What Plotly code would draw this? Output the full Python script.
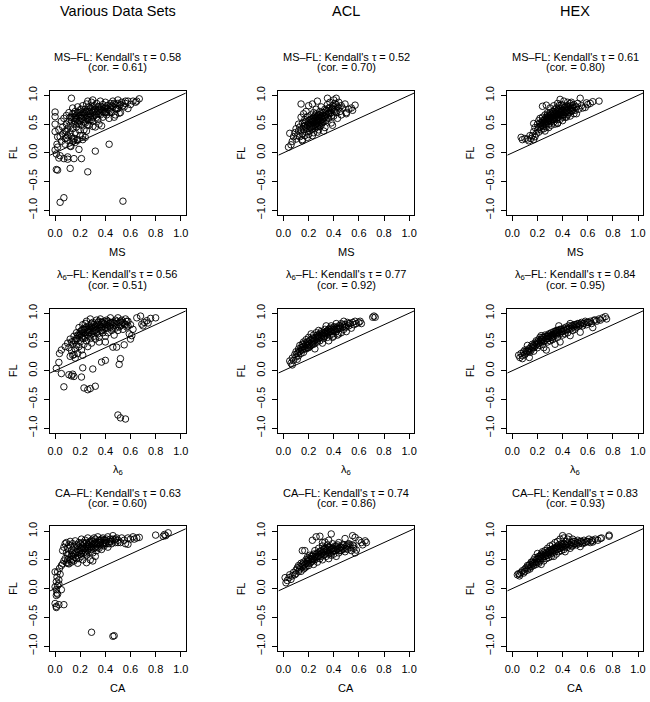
import plotly.graph_objects as go

# ---------------- data ----------------
col_titles = ["Various Data Sets", "ACL", "HEX"]
row_measures = ["MS", "λ<sub>6</sub>", "CA"]
kendall_tau = [[0.58, 0.52, 0.61], [0.56, 0.77, 0.84], [0.63, 0.74, 0.83]]
pearson_cor = [[0.61, 0.70, 0.80], [0.51, 0.92, 0.95], [0.60, 0.86, 0.93]]

x_ticks = [0.0, 0.2, 0.4, 0.6, 0.8, 1.0]
x_ticklabels = ["0.0", "0.2", "0.4", "0.6", "0.8", "1.0"]
y_ticks = [-1.0, -0.5, 0.0, 0.5, 1.0]
y_ticklabels = ["−1.0", "−0.5", "0.0", "0.5", "1.0"]

various_ms_fl = [
    (0.13, 0.95), (0.00, 0.71), (0.00, 0.63), (0.00, 0.50), (0.00, 0.37), (0.015, 0.15), (0.00, 0.05),
    (0.01, -0.02), (0.03, -0.09), (0.07, -0.10), (0.10, -0.07), (0.10, -0.11), (0.15, -0.10), (0.21, -0.10),
    (0.19, 0.06), (0.32, 0.03), (0.43, 0.15), (0.01, -0.29), (0.02, -0.30), (0.12, -0.27), (0.26, -0.33),
    (0.04, -0.86), (0.07, -0.78), (0.54, -0.84), (0.02, 0.28), (0.02, 0.10), (0.04, -0.05),
    (0.09, 0.37), (0.09, 0.26), (0.15, 0.23), (0.125, 0.11), (0.16, 0.18), (0.18, 0.23), (0.22, 0.23), (0.24, 0.27),
    (0.03, 0.40), (0.04, 0.28), (0.05, 0.55), (0.06, 0.33), (0.06, 0.45), (0.07, 0.60), (0.08, 0.25), (0.08, 0.38),
    (0.09, 0.50), (0.09, 0.65), (0.10, 0.30), (0.10, 0.42), (0.11, 0.55), (0.11, 0.70), (0.12, 0.35), (0.12, 0.48),
    (0.12, 0.62), (0.13, 0.28), (0.13, 0.55), (0.14, 0.42), (0.14, 0.68), (0.14, 0.78), (0.15, 0.50), (0.15, 0.60),
    (0.16, 0.35), (0.16, 0.72), (0.17, 0.45), (0.17, 0.58), (0.17, 0.65), (0.18, 0.52), (0.18, 0.80), (0.19, 0.40),
    (0.19, 0.62), (0.19, 0.70), (0.20, 0.55), (0.20, 0.75), (0.21, 0.48), (0.21, 0.66), (0.22, 0.58), (0.22, 0.82),
    (0.23, 0.40), (0.23, 0.70), (0.23, 0.62), (0.24, 0.52), (0.24, 0.76), (0.25, 0.65), (0.25, 0.85), (0.26, 0.58),
    (0.26, 0.72), (0.27, 0.48), (0.27, 0.80), (0.28, 0.62), (0.28, 0.68), (0.29, 0.75), (0.29, 0.88), (0.30, 0.55),
    (0.30, 0.70), (0.31, 0.82), (0.31, 0.64), (0.32, 0.45), (0.32, 0.76), (0.33, 0.68), (0.33, 0.86), (0.34, 0.58),
    (0.34, 0.72), (0.35, 0.80), (0.36, 0.66), (0.36, 0.90), (0.37, 0.75), (0.38, 0.62), (0.38, 0.84), (0.39, 0.70),
    (0.40, 0.78), (0.40, 0.88), (0.41, 0.66), (0.42, 0.82), (0.43, 0.74), (0.44, 0.86), (0.45, 0.70), (0.46, 0.90),
    (0.46, 0.80), (0.47, 0.62), (0.48, 0.84), (0.49, 0.76), (0.50, 0.92), (0.51, 0.82), (0.52, 0.70), (0.53, 0.88),
    (0.55, 0.80), (0.56, 0.86), (0.58, 0.90), (0.60, 0.84), (0.62, 0.90), (0.64, 0.88), (0.67, 0.94), (0.48, 0.66),
    (0.43, 0.60), (0.30, 0.92), (0.26, 0.90), (0.35, 0.50), (0.20, 0.30), (0.15, 0.25), (0.10, 0.22), (0.05, 0.20),
    (0.08, 0.15), (0.12, 0.12), (0.18, 0.22), (0.22, 0.30), (0.25, 0.38), (0.14, 0.20), (0.37, 0.47), (0.30, 0.46),
    (0.26, 0.49), (0.50, 0.77), (0.51, 0.69), (0.58, 0.77), (0.65, 0.90), (0.21, 0.60), (0.24, 0.68), (0.27, 0.64),
    (0.29, 0.58), (0.32, 0.66), (0.35, 0.74), (0.37, 0.80), (0.41, 0.72), (0.44, 0.78), (0.19, 0.50), (0.16, 0.55),
    (0.16, 0.64), (0.18, 0.70), (0.20, 0.64), (0.22, 0.70), (0.23, 0.54), (0.25, 0.60), (0.25, 0.72), (0.27, 0.56),
    (0.27, 0.72), (0.28, 0.78), (0.30, 0.62), (0.30, 0.80), (0.31, 0.74), (0.33, 0.62), (0.34, 0.80), (0.35, 0.68),
    (0.36, 0.76), (0.38, 0.72), (0.39, 0.78), (0.40, 0.70), (0.41, 0.82), (0.42, 0.76), (0.44, 0.72), (0.45, 0.82),
    (0.47, 0.86), (0.48, 0.78), (0.50, 0.86), (0.52, 0.84), (0.54, 0.82), (0.56, 0.90), (0.21, 0.76), (0.19, 0.56),
    (0.13, 0.62), (0.15, 0.68),
]

acl_ms_fl = [
    (0.04, 0.10), (0.06, 0.14), (0.07, 0.20), (0.05, 0.34), (0.08, 0.28), (0.09, 0.35), (0.10, 0.24), (0.10, 0.42),
    (0.11, 0.30), (0.12, 0.38), (0.12, 0.50), (0.13, 0.28), (0.13, 0.45), (0.14, 0.62), (0.14, 0.85), (0.15, 0.33),
    (0.15, 0.52), (0.15, 0.21), (0.15, 0.23), (0.16, 0.40), (0.16, 0.68), (0.17, 0.30), (0.17, 0.47), (0.17, 0.58),
    (0.18, 0.36), (0.18, 0.55), (0.18, 0.72), (0.19, 0.42), (0.19, 0.63), (0.20, 0.32), (0.20, 0.50), (0.20, 0.82),
    (0.21, 0.45), (0.21, 0.58), (0.21, 0.38), (0.22, 0.66), (0.22, 0.52), (0.23, 0.42), (0.23, 0.85), (0.23, 0.60),
    (0.24, 0.48), (0.24, 0.35), (0.24, 0.70), (0.25, 0.55), (0.25, 0.42), (0.26, 0.62), (0.26, 0.50), (0.26, 0.76),
    (0.27, 0.45), (0.27, 0.58), (0.27, 0.90), (0.28, 0.40), (0.28, 0.66), (0.28, 0.53), (0.29, 0.60), (0.29, 0.72),
    (0.30, 0.48), (0.30, 0.56), (0.30, 0.80), (0.31, 0.65), (0.31, 0.52), (0.32, 0.70), (0.32, 0.60), (0.33, 0.44),
    (0.33, 0.76), (0.34, 0.56), (0.34, 0.66), (0.35, 0.84), (0.35, 0.72), (0.35, 0.95), (0.36, 0.60), (0.36, 0.78),
    (0.37, 0.68), (0.37, 0.88), (0.38, 0.52), (0.38, 0.74), (0.39, 0.82), (0.39, 0.48), (0.40, 0.92), (0.40, 0.64),
    (0.41, 0.76), (0.41, 0.86), (0.42, 0.95), (0.42, 0.70), (0.43, 0.60), (0.43, 0.80), (0.44, 0.88), (0.45, 0.72),
    (0.46, 0.82), (0.47, 0.78), (0.49, 0.85), (0.50, 0.68), (0.50, 0.70), (0.52, 0.76), (0.54, 0.78), (0.55, 0.74),
    (0.57, 0.83), (0.46, 0.66), (0.32, 0.38), (0.23, 0.30), (0.27, 0.36), (0.19, 0.27), (0.29, 0.46), (0.25, 0.64),
    (0.22, 0.44), (0.24, 0.56), (0.26, 0.46), (0.28, 0.60), (0.30, 0.64), (0.33, 0.62), (0.36, 0.70), (0.38, 0.64),
    (0.19, 0.48), (0.20, 0.56), (0.21, 0.50), (0.22, 0.58), (0.23, 0.46), (0.23, 0.54), (0.24, 0.62), (0.25, 0.48),
    (0.25, 0.60), (0.26, 0.56), (0.26, 0.68), (0.27, 0.52), (0.27, 0.64), (0.28, 0.48), (0.29, 0.56), (0.29, 0.66),
    (0.30, 0.52), (0.30, 0.62), (0.31, 0.58), (0.31, 0.70), (0.32, 0.54), (0.33, 0.64), (0.34, 0.74), (0.35, 0.62),
    (0.36, 0.68), (0.37, 0.78), (0.38, 0.70), (0.39, 0.76), (0.40, 0.80), (0.41, 0.72), (0.42, 0.84), (0.44, 0.78),
    (0.18, 0.44), (0.17, 0.52), (0.16, 0.46), (0.14, 0.40),
]

hex_ms_fl = [
    (0.07, 0.27), (0.08, 0.23), (0.10, 0.25), (0.12, 0.24), (0.13, 0.21), (0.15, 0.25), (0.16, 0.30), (0.17, 0.23),
    (0.17, 0.37), (0.17, 0.51), (0.18, 0.44), (0.19, 0.33), (0.20, 0.40), (0.20, 0.50), (0.21, 0.36), (0.21, 0.56),
    (0.22, 0.45), (0.22, 0.60), (0.23, 0.40), (0.23, 0.52), (0.24, 0.81), (0.24, 0.48), (0.24, 0.62), (0.25, 0.56),
    (0.25, 0.42), (0.26, 0.50), (0.26, 0.66), (0.27, 0.83), (0.27, 0.58), (0.27, 0.45), (0.28, 0.54), (0.28, 0.62),
    (0.28, 0.70), (0.29, 0.50), (0.29, 0.60), (0.30, 0.56), (0.30, 0.66), (0.30, 0.78), (0.31, 0.48), (0.31, 0.62),
    (0.32, 0.58), (0.32, 0.72), (0.33, 0.54), (0.33, 0.66), (0.33, 0.82), (0.34, 0.62), (0.34, 0.75), (0.35, 0.58),
    (0.35, 0.70), (0.36, 0.52), (0.36, 0.66), (0.36, 0.86), (0.37, 0.62), (0.37, 0.78), (0.38, 0.70), (0.38, 0.93),
    (0.38, 0.58), (0.39, 0.74), (0.39, 0.84), (0.40, 0.66), (0.40, 0.62), (0.41, 0.78), (0.41, 0.90), (0.42, 0.70),
    (0.42, 0.62), (0.43, 0.82), (0.43, 0.74), (0.44, 0.66), (0.44, 0.88), (0.45, 0.76), (0.45, 0.70), (0.46, 0.82),
    (0.47, 0.72), (0.47, 0.88), (0.48, 0.78), (0.49, 0.68), (0.49, 0.84), (0.50, 0.74), (0.51, 0.80), (0.52, 0.86),
    (0.53, 0.76), (0.54, 0.95), (0.55, 0.82), (0.56, 0.78), (0.58, 0.79), (0.59, 0.87), (0.60, 0.84), (0.62, 0.86),
    (0.64, 0.89), (0.69, 0.90), (0.26, 0.38), (0.29, 0.44), (0.34, 0.50), (0.40, 0.56), (0.46, 0.64), (0.18, 0.28),
    (0.14, 0.30), (0.51, 0.68), (0.43, 0.62), (0.36, 0.51), (0.25, 0.52), (0.28, 0.58), (0.31, 0.55), (0.33, 0.60),
    (0.35, 0.64), (0.37, 0.68), (0.39, 0.66), (0.41, 0.70), (0.42, 0.76), (0.44, 0.80), (0.46, 0.74), (0.48, 0.82),
    (0.21, 0.44), (0.22, 0.52), (0.23, 0.48), (0.24, 0.56), (0.25, 0.46), (0.26, 0.58), (0.26, 0.54), (0.27, 0.62),
    (0.27, 0.50), (0.28, 0.66), (0.29, 0.56), (0.29, 0.64), (0.30, 0.60), (0.30, 0.70), (0.31, 0.66), (0.32, 0.62),
    (0.32, 0.68), (0.33, 0.58), (0.33, 0.72), (0.34, 0.68), (0.35, 0.66), (0.35, 0.78), (0.36, 0.62), (0.36, 0.74),
    (0.37, 0.72), (0.37, 0.82), (0.38, 0.66), (0.38, 0.76), (0.39, 0.70), (0.40, 0.74), (0.40, 0.82), (0.41, 0.66),
    (0.42, 0.80), (0.43, 0.70), (0.44, 0.74), (0.45, 0.80), (0.46, 0.86), (0.47, 0.78), (0.48, 0.74), (0.50, 0.80),
]

various_l6_fl = [
    (0.10, 0.48), (0.11, 0.40), (0.12, 0.55), (0.13, 0.35), (0.14, 0.46), (0.15, 0.28), (0.15, 0.60), (0.16, 0.38),
    (0.16, 0.52), (0.17, 0.45), (0.17, 0.66), (0.18, 0.30), (0.18, 0.56), (0.19, 0.75), (0.19, 0.42), (0.20, 0.62),
    (0.20, 0.50), (0.21, 0.70), (0.21, 0.36), (0.22, 0.56), (0.22, 0.80), (0.23, 0.46), (0.23, 0.66), (0.24, 0.58),
    (0.24, 0.74), (0.25, 0.52), (0.25, 0.86), (0.26, 0.62), (0.26, 0.42), (0.27, 0.70), (0.27, 0.78), (0.28, 0.56),
    (0.28, 0.90), (0.29, 0.64), (0.29, 0.48), (0.30, 0.74), (0.30, 0.84), (0.31, 0.60), (0.31, 0.68), (0.32, 0.78),
    (0.32, 0.55), (0.33, 0.72), (0.33, 0.88), (0.34, 0.64), (0.35, 0.80), (0.35, 0.58), (0.36, 0.70), (0.36, 0.90),
    (0.37, 0.76), (0.38, 0.66), (0.38, 0.84), (0.39, 0.72), (0.40, 0.80), (0.40, 0.60), (0.41, 0.88), (0.42, 0.74),
    (0.42, 0.66), (0.43, 0.82), (0.44, 0.76), (0.44, 0.92), (0.45, 0.70), (0.46, 0.84), (0.46, 0.78), (0.47, 0.62),
    (0.48, 0.88), (0.48, 0.74), (0.49, 0.80), (0.50, 0.92), (0.50, 0.70), (0.51, 0.84), (0.52, 0.78), (0.53, 0.88),
    (0.54, 0.72), (0.55, 0.82), (0.56, 0.90), (0.57, 0.76), (0.58, 0.86), (0.59, 0.64), (0.60, 0.80), (0.61, 0.61),
    (0.60, 0.55), (0.62, 0.72), (0.65, 0.92), (0.68, 0.95), (0.69, 0.81), (0.70, 0.78), (0.71, 0.84), (0.73, 0.87),
    (0.74, 0.83), (0.76, 0.91), (0.80, 0.92), (0.46, 0.41), (0.49, 0.41), (0.55, 0.45), (0.35, 0.50), (0.40, 0.50),
    (0.035, 0.30), (0.05, 0.36), (0.08, 0.42), (0.03, 0.145), (0.01, 0.04), (0.05, -0.05), (0.07, -0.28),
    (0.11, -0.07), (0.13, -0.09), (0.15, -0.10), (0.14, -0.06), (0.21, -0.11), (0.22, 0.05), (0.23, -0.30),
    (0.26, -0.33), (0.28, -0.31), (0.32, -0.27), (0.30, 0.03), (0.37, 0.15), (0.40, 0.18), (0.52, 0.21),
    (0.51, 0.11), (0.50, -0.77), (0.52, -0.82), (0.56, -0.84), (0.14, 0.27), (0.22, 0.27), (0.12, 0.25), (0.16, 0.22),
    (0.18, 0.62), (0.24, 0.82), (0.26, 0.68), (0.34, 0.84), (0.44, 0.84), (0.53, 0.80), (0.57, 0.86),
    (0.21, 0.58), (0.23, 0.72), (0.27, 0.60), (0.29, 0.76), (0.31, 0.80), (0.33, 0.66), (0.37, 0.70), (0.39, 0.82),
    (0.20, 0.68), (0.21, 0.64), (0.22, 0.72), (0.23, 0.60), (0.24, 0.66), (0.25, 0.76), (0.26, 0.72), (0.27, 0.66),
    (0.28, 0.74), (0.29, 0.82), (0.30, 0.68), (0.31, 0.76), (0.32, 0.70), (0.33, 0.80), (0.34, 0.74), (0.35, 0.86),
    (0.36, 0.78), (0.37, 0.84), (0.38, 0.76), (0.39, 0.86), (0.40, 0.74), (0.41, 0.80), (0.42, 0.86), (0.43, 0.78),
    (0.45, 0.84), (0.46, 0.74), (0.47, 0.82), (0.49, 0.86), (0.51, 0.76), (0.52, 0.86), (0.54, 0.84), (0.56, 0.80),
    (0.58, 0.78), (0.17, 0.56), (0.19, 0.62), (0.15, 0.52), (0.13, 0.50),
]

acl_l6_fl = [
    (0.05, 0.17), (0.06, 0.13), (0.07, 0.10), (0.07, 0.22), (0.08, 0.18), (0.09, 0.28), (0.10, 0.24), (0.10, 0.33),
    (0.11, 0.20), (0.11, 0.30), (0.12, 0.38), (0.12, 0.26), (0.13, 0.34), (0.13, 0.44), (0.14, 0.30), (0.14, 0.40),
    (0.15, 0.46), (0.15, 0.36), (0.16, 0.50), (0.16, 0.32), (0.17, 0.42), (0.17, 0.48), (0.18, 0.38), (0.18, 0.54),
    (0.19, 0.44), (0.19, 0.50), (0.20, 0.40), (0.20, 0.58), (0.21, 0.47), (0.21, 0.53), (0.22, 0.64), (0.22, 0.44),
    (0.23, 0.50), (0.23, 0.57), (0.24, 0.46), (0.24, 0.62), (0.25, 0.53), (0.25, 0.38), (0.26, 0.58), (0.26, 0.66),
    (0.27, 0.50), (0.27, 0.62), (0.28, 0.56), (0.28, 0.70), (0.29, 0.52), (0.29, 0.64), (0.30, 0.58), (0.30, 0.68),
    (0.31, 0.62), (0.31, 0.48), (0.32, 0.66), (0.32, 0.56), (0.33, 0.72), (0.33, 0.60), (0.34, 0.64), (0.34, 0.78),
    (0.35, 0.58), (0.35, 0.70), (0.36, 0.66), (0.36, 0.52), (0.37, 0.74), (0.37, 0.62), (0.38, 0.68), (0.38, 0.78),
    (0.39, 0.64), (0.40, 0.72), (0.40, 0.60), (0.41, 0.76), (0.42, 0.68), (0.42, 0.82), (0.43, 0.72), (0.44, 0.64),
    (0.44, 0.78), (0.45, 0.74), (0.46, 0.82), (0.46, 0.66), (0.47, 0.76), (0.48, 0.86), (0.48, 0.72), (0.49, 0.80),
    (0.50, 0.76), (0.50, 0.68), (0.51, 0.84), (0.52, 0.78), (0.53, 0.82), (0.54, 0.74), (0.55, 0.84), (0.56, 0.80),
    (0.57, 0.86), (0.58, 0.82), (0.60, 0.84), (0.62, 0.82), (0.61, 0.86), (0.71, 0.93), (0.72, 0.95), (0.73, 0.93),
    (0.43, 0.62), (0.39, 0.58), (0.15, 0.41), (0.20, 0.45), (0.24, 0.52), (0.28, 0.60), (0.33, 0.66),
    (0.12, 0.32), (0.14, 0.36), (0.16, 0.42), (0.17, 0.38), (0.18, 0.46), (0.19, 0.40), (0.20, 0.50), (0.21, 0.42),
    (0.22, 0.54), (0.23, 0.46), (0.24, 0.56), (0.25, 0.48), (0.26, 0.54), (0.27, 0.58), (0.28, 0.62), (0.29, 0.58),
    (0.30, 0.62), (0.31, 0.66), (0.32, 0.60), (0.33, 0.64), (0.34, 0.68), (0.35, 0.66), (0.36, 0.72), (0.37, 0.68),
    (0.38, 0.72), (0.39, 0.70), (0.40, 0.76), (0.41, 0.70), (0.42, 0.74), (0.44, 0.74), (0.45, 0.78), (0.47, 0.80),
    (0.49, 0.76), (0.52, 0.82),
]

hex_l6_fl = [
    (0.05, 0.27), (0.06, 0.23), (0.07, 0.30), (0.08, 0.21), (0.08, 0.26), (0.09, 0.33), (0.10, 0.28), (0.10, 0.36),
    (0.11, 0.31), (0.12, 0.44), (0.12, 0.34), (0.13, 0.38), (0.135, 0.23), (0.14, 0.32), (0.15, 0.42), (0.15, 0.36),
    (0.16, 0.46), (0.17, 0.40), (0.17, 0.34), (0.18, 0.48), (0.18, 0.42), (0.19, 0.52), (0.20, 0.46), (0.20, 0.40),
    (0.21, 0.54), (0.21, 0.48), (0.22, 0.44), (0.22, 0.58), (0.23, 0.50), (0.23, 0.61), (0.24, 0.54), (0.24, 0.46),
    (0.25, 0.58), (0.25, 0.40), (0.26, 0.52), (0.26, 0.62), (0.27, 0.36), (0.27, 0.56), (0.28, 0.60), (0.28, 0.50),
    (0.29, 0.64), (0.29, 0.56), (0.30, 0.60), (0.30, 0.52), (0.31, 0.66), (0.31, 0.58), (0.32, 0.62), (0.32, 0.54),
    (0.33, 0.68), (0.33, 0.60), (0.34, 0.64), (0.34, 0.46), (0.35, 0.70), (0.35, 0.62), (0.36, 0.66), (0.36, 0.58),
    (0.37, 0.78), (0.37, 0.70), (0.38, 0.64), (0.38, 0.50), (0.39, 0.72), (0.40, 0.68), (0.40, 0.62), (0.41, 0.74),
    (0.42, 0.70), (0.42, 0.64), (0.43, 0.76), (0.44, 0.72), (0.44, 0.66), (0.45, 0.78), (0.46, 0.82), (0.46, 0.61),
    (0.47, 0.74), (0.48, 0.78), (0.48, 0.70), (0.49, 0.76), (0.50, 0.80), (0.50, 0.72), (0.51, 0.76), (0.52, 0.82),
    (0.53, 0.78), (0.54, 0.67), (0.54, 0.80), (0.55, 0.84), (0.56, 0.78), (0.57, 0.82), (0.58, 0.86), (0.59, 0.80),
    (0.60, 0.84), (0.62, 0.86), (0.63, 0.82), (0.64, 0.75), (0.65, 0.88), (0.67, 0.86), (0.69, 0.90), (0.70, 0.88),
    (0.72, 0.92), (0.74, 0.94), (0.75, 0.90),
    (0.11, 0.34), (0.13, 0.34), (0.14, 0.38), (0.16, 0.40), (0.17, 0.44), (0.19, 0.46), (0.20, 0.50), (0.22, 0.52),
    (0.23, 0.54), (0.24, 0.58), (0.25, 0.52), (0.27, 0.60), (0.28, 0.56), (0.29, 0.60), (0.30, 0.64), (0.31, 0.62),
    (0.32, 0.58), (0.33, 0.64), (0.34, 0.68), (0.35, 0.66), (0.36, 0.70), (0.37, 0.66), (0.38, 0.72), (0.39, 0.68),
    (0.41, 0.70), (0.43, 0.72), (0.45, 0.74), (0.47, 0.78), (0.49, 0.80), (0.51, 0.80), (0.53, 0.82), (0.56, 0.82),
    (0.59, 0.84), (0.61, 0.84), (0.66, 0.88),
]

various_ca_fl = [
    (0.00, 0.03), (0.01, 0.12), (0.015, 0.20), (0.00, 0.29), (0.02, 0.29), (0.035, 0.35), (0.05, 0.40), (0.06, 0.43),
    (0.01, -0.02), (0.015, -0.08), (0.01, -0.12), (0.02, -0.10), (0.05, -0.02), (0.01, -0.31), (0.00, -0.26),
    (0.01, -0.33), (0.03, -0.28), (0.07, -0.28), (0.29, -0.76), (0.46, -0.83), (0.47, -0.82), (0.02, 0.05),
    (0.03, 0.15), (0.04, 0.25), (0.03, 0.08),
    (0.06, 0.66), (0.07, 0.72), (0.08, 0.52), (0.08, 0.78), (0.09, 0.80), (0.09, 0.45), (0.10, 0.70), (0.10, 0.58),
    (0.11, 0.43), (0.11, 0.76), (0.12, 0.82), (0.12, 0.50), (0.13, 0.66), (0.13, 0.46), (0.14, 0.78), (0.14, 0.56),
    (0.15, 0.72), (0.15, 0.48), (0.16, 0.83), (0.16, 0.62), (0.17, 0.52), (0.17, 0.76), (0.18, 0.68), (0.18, 0.44),
    (0.19, 0.52), (0.19, 0.80), (0.20, 0.60), (0.20, 0.72), (0.21, 0.86), (0.21, 0.56), (0.22, 0.66), (0.22, 0.50),
    (0.23, 0.78), (0.23, 0.62), (0.24, 0.70), (0.24, 0.84), (0.25, 0.58), (0.25, 0.74), (0.26, 0.66), (0.26, 0.88),
    (0.27, 0.63), (0.27, 0.80), (0.28, 0.72), (0.28, 0.50), (0.29, 0.84), (0.29, 0.68), (0.30, 0.76), (0.30, 0.62),
    (0.31, 0.88), (0.31, 0.70), (0.32, 0.80), (0.33, 0.66), (0.33, 0.74), (0.34, 0.90), (0.34, 0.78), (0.35, 0.70),
    (0.36, 0.84), (0.36, 0.76), (0.37, 0.68), (0.38, 0.88), (0.38, 0.80), (0.39, 0.74), (0.40, 0.84), (0.41, 0.78),
    (0.42, 0.90), (0.42, 0.72), (0.43, 0.82), (0.44, 0.86), (0.45, 0.78), (0.46, 0.92), (0.47, 0.84), (0.48, 0.80),
    (0.49, 0.88), (0.50, 0.84), (0.52, 0.80), (0.53, 0.88), (0.55, 0.84), (0.56, 0.78), (0.58, 0.77), (0.58, 0.88),
    (0.60, 0.86), (0.62, 0.90), (0.63, 0.86), (0.65, 0.88), (0.67, 0.89), (0.80, 0.93), (0.86, 0.91), (0.87, 0.94),
    (0.90, 0.97), (0.88, 0.92), (0.25, 0.45), (0.32, 0.56), (0.30, 0.48), (0.07, 0.48), (0.10, 0.50), (0.14, 0.62),
    (0.18, 0.58), (0.22, 0.74), (0.26, 0.76), (0.20, 0.66), (0.12, 0.74),
    (0.16, 0.54), (0.21, 0.62), (0.24, 0.60), (0.27, 0.70), (0.29, 0.76), (0.32, 0.72), (0.35, 0.80), (0.40, 0.78),
    (0.15, 0.60), (0.17, 0.64), (0.18, 0.74), (0.19, 0.64), (0.20, 0.78), (0.21, 0.70), (0.22, 0.80), (0.23, 0.70),
    (0.24, 0.64), (0.25, 0.80), (0.26, 0.72), (0.27, 0.76), (0.28, 0.82), (0.29, 0.72), (0.30, 0.82), (0.31, 0.78),
    (0.32, 0.86), (0.33, 0.78), (0.34, 0.72), (0.35, 0.84), (0.36, 0.80), (0.37, 0.86), (0.38, 0.76), (0.39, 0.84),
    (0.40, 0.80), (0.41, 0.86), (0.43, 0.78), (0.44, 0.82), (0.46, 0.86), (0.48, 0.86), (0.50, 0.80), (0.13, 0.58),
    (0.11, 0.60), (0.09, 0.62), (0.14, 0.50), (0.10, 0.44),
]

acl_ca_fl = [
    (0.013, 0.19), (0.02, 0.10), (0.03, 0.14), (0.044, 0.19), (0.05, 0.24), (0.06, 0.16), (0.07, 0.22), (0.08, 0.28),
    (0.09, 0.24), (0.10, 0.32), (0.10, 0.26), (0.11, 0.36), (0.12, 0.30), (0.12, 0.40), (0.13, 0.34), (0.14, 0.44),
    (0.14, 0.30), (0.15, 0.38), (0.15, 0.66), (0.16, 0.46), (0.16, 0.34), (0.17, 0.66), (0.17, 0.42), (0.18, 0.50),
    (0.18, 0.38), (0.19, 0.44), (0.19, 0.54), (0.20, 0.48), (0.20, 0.40), (0.21, 0.58), (0.21, 0.44), (0.22, 0.52),
    (0.22, 0.46), (0.23, 0.84), (0.23, 0.56), (0.24, 0.42), (0.24, 0.60), (0.25, 0.50), (0.25, 0.66), (0.26, 0.90),
    (0.26, 0.54), (0.27, 0.46), (0.27, 0.62), (0.28, 0.56), (0.28, 0.70), (0.29, 0.91), (0.29, 0.52), (0.30, 0.60),
    (0.30, 0.66), (0.31, 0.50), (0.31, 0.74), (0.32, 0.58), (0.32, 0.64), (0.33, 0.81), (0.33, 0.70), (0.34, 0.56),
    (0.34, 0.62), (0.35, 0.68), (0.35, 0.76), (0.36, 0.60), (0.36, 0.52), (0.37, 0.66), (0.37, 0.72), (0.38, 0.95),
    (0.38, 0.58), (0.39, 0.64), (0.39, 0.78), (0.40, 0.70), (0.40, 0.60), (0.41, 0.66), (0.42, 0.74), (0.42, 0.56),
    (0.43, 0.68), (0.44, 0.80), (0.44, 0.62), (0.45, 0.72), (0.46, 0.66), (0.47, 0.76), (0.48, 0.70), (0.49, 0.87),
    (0.49, 0.64), (0.50, 0.74), (0.51, 0.68), (0.52, 0.78), (0.53, 0.72), (0.54, 0.66), (0.55, 0.92), (0.55, 0.76),
    (0.56, 0.70), (0.57, 0.89), (0.57, 0.62), (0.58, 0.67), (0.60, 0.84), (0.62, 0.80), (0.63, 0.76), (0.65, 0.83),
    (0.66, 0.80), (0.36, 0.84), (0.31, 0.80), (0.17, 0.36), (0.23, 0.48), (0.29, 0.58), (0.34, 0.66), (0.45, 0.66),
    (0.13, 0.38), (0.15, 0.42), (0.16, 0.40), (0.18, 0.44), (0.19, 0.48), (0.20, 0.52), (0.21, 0.50), (0.22, 0.56),
    (0.23, 0.52), (0.24, 0.50), (0.25, 0.56), (0.26, 0.60), (0.27, 0.56), (0.28, 0.62), (0.29, 0.64), (0.30, 0.56),
    (0.31, 0.62), (0.32, 0.68), (0.33, 0.60), (0.34, 0.70), (0.35, 0.64), (0.36, 0.72), (0.37, 0.62), (0.38, 0.68),
    (0.39, 0.70), (0.40, 0.66), (0.41, 0.74), (0.42, 0.68), (0.43, 0.76), (0.44, 0.70), (0.46, 0.72), (0.47, 0.68),
    (0.48, 0.76), (0.50, 0.70), (0.51, 0.76), (0.53, 0.76), (0.56, 0.74),
]

hex_ca_fl = [
    (0.04, 0.24), (0.05, 0.26), (0.057, 0.22), (0.06, 0.25), (0.07, 0.28), (0.08, 0.31), (0.09, 0.27), (0.10, 0.34),
    (0.10, 0.30), (0.11, 0.36), (0.12, 0.32), (0.12, 0.40), (0.13, 0.36), (0.14, 0.42), (0.14, 0.34), (0.15, 0.46),
    (0.15, 0.38), (0.16, 0.42), (0.17, 0.50), (0.17, 0.40), (0.18, 0.46), (0.18, 0.54), (0.19, 0.42), (0.19, 0.50),
    (0.20, 0.61), (0.20, 0.46), (0.21, 0.52), (0.21, 0.44), (0.22, 0.56), (0.22, 0.48), (0.23, 0.60), (0.23, 0.42),
    (0.24, 0.52), (0.24, 0.64), (0.25, 0.56), (0.25, 0.48), (0.26, 0.60), (0.26, 0.66), (0.27, 0.52), (0.27, 0.58),
    (0.28, 0.70), (0.28, 0.62), (0.29, 0.54), (0.29, 0.66), (0.30, 0.60), (0.30, 0.74), (0.31, 0.56), (0.31, 0.68),
    (0.32, 0.62), (0.32, 0.76), (0.33, 0.56), (0.33, 0.70), (0.34, 0.64), (0.34, 0.80), (0.35, 0.60), (0.35, 0.72),
    (0.36, 0.68), (0.36, 0.82), (0.37, 0.64), (0.37, 0.76), (0.38, 0.70), (0.38, 0.86), (0.39, 0.66), (0.39, 0.78),
    (0.40, 0.92), (0.40, 0.72), (0.41, 0.88), (0.41, 0.68), (0.42, 0.76), (0.42, 0.64), (0.43, 0.82), (0.44, 0.72),
    (0.44, 0.86), (0.45, 0.90), (0.45, 0.76), (0.46, 0.70), (0.47, 0.80), (0.48, 0.86), (0.48, 0.74), (0.49, 0.78),
    (0.50, 0.82), (0.51, 0.76), (0.52, 0.84), (0.53, 0.78), (0.54, 0.73), (0.55, 0.82), (0.56, 0.78), (0.57, 0.84),
    (0.58, 0.80), (0.60, 0.82), (0.61, 0.86), (0.62, 0.80), (0.64, 0.84), (0.64, 0.81), (0.66, 0.86), (0.68, 0.84),
    (0.70, 0.87), (0.71, 0.88), (0.77, 0.93), (0.77, 0.91),
    (0.13, 0.40), (0.16, 0.46), (0.17, 0.44), (0.19, 0.46), (0.20, 0.52), (0.21, 0.56), (0.22, 0.52), (0.23, 0.56),
    (0.24, 0.58), (0.25, 0.62), (0.26, 0.56), (0.27, 0.62), (0.28, 0.58), (0.29, 0.62), (0.30, 0.66), (0.31, 0.64),
    (0.32, 0.68), (0.33, 0.66), (0.34, 0.70), (0.35, 0.68), (0.36, 0.74), (0.37, 0.70), (0.38, 0.74), (0.39, 0.72),
    (0.40, 0.76), (0.41, 0.78), (0.42, 0.72), (0.43, 0.76), (0.44, 0.78), (0.46, 0.76), (0.47, 0.74), (0.49, 0.82),
    (0.50, 0.78), (0.52, 0.80), (0.54, 0.82), (0.56, 0.80), (0.59, 0.82), (0.63, 0.83),
]

panel_data = [
    [various_ms_fl, acl_ms_fl, hex_ms_fl],
    [various_l6_fl, acl_l6_fl, hex_l6_fl],
    [various_ca_fl, acl_ca_fl, hex_ca_fl],
]

# ---------------- layout geometry (pixels) ----------------
W, H = 650, 702
col_px = [(47.5, 184.5), (278.0, 415.0), (509.0, 646.0)]
row_px = [(87.0, 213.0), (308.0, 434.0), (529.0, 655.0)]
x_range = [-0.04, 1.04]
y_range = [-1.08, 1.08]
FONT = "Liberation Sans, Arial, Helvetica, sans-serif"

fig = go.Figure()
layout = dict(
    width=W, height=H, margin=dict(l=0, r=0, t=0, b=0),
    paper_bgcolor="white", plot_bgcolor="white", showlegend=False,
    font=dict(family=FONT, size=11, color="black"),
)
annotations = []
shapes = []

def px_x(p):
    return p / W

def px_y(p):
    return 1 - p / H

for r in range(3):
    for c in range(3):
        k = r * 3 + c + 1
        xa = "xaxis" if k == 1 else f"xaxis{k}"
        ya = "yaxis" if k == 1 else f"yaxis{k}"
        xref = "x" if k == 1 else f"x{k}"
        yref = "y" if k == 1 else f"y{k}"
        l, rr = col_px[c]
        t, b = row_px[r]
        layout[xa] = dict(
            domain=[px_x(l), px_x(rr)], anchor=yref, range=x_range,
            tickvals=x_ticks, ticktext=x_ticklabels, ticks="outside", ticklen=5,
            tickwidth=1, tickcolor="black", showline=True, linecolor="black",
            linewidth=1, mirror=True, showgrid=False, zeroline=False,
            tickfont=dict(size=11, family=FONT, color="black"),
            ticklabelstandoff=3,
        )
        layout[ya] = dict(
            domain=[px_y(b), px_y(t)], anchor=xref, range=y_range,
            tickvals=y_ticks, ticktext=y_ticklabels, ticks="outside", ticklen=5,
            tickwidth=1, tickcolor="black", showline=True, linecolor="black",
            linewidth=1, mirror=True, showgrid=False, zeroline=False,
            tickangle=-90, tickfont=dict(size=11, family=FONT, color="black"),
            ticklabelstandoff=3,
        )
        pts = panel_data[r][c]
        fig.add_trace(go.Scatter(
            x=[p[0] for p in pts], y=[p[1] for p in pts], mode="markers",
            xaxis=xref, yaxis=yref, cliponaxis=True,
            marker=dict(symbol="circle-open", size=6.5, color="black",
                        line=dict(width=0.9, color="black")),
            hoverinfo="skip",
        ))
        # identity line (abline 0,1) across the plotting region
        shapes.append(dict(type="line", xref=xref, yref=yref,
                           x0=x_range[0], y0=x_range[0], x1=x_range[1], y1=x_range[1],
                           line=dict(color="black", width=1)))
        cx = (l + rr) / 2
        meas = row_measures[r]
        annotations.append(dict(
            text=f"{meas}–FL: Kendall's τ = {kendall_tau[r][c]:.2f}",
            xref="paper", yref="paper", x=px_x(cx), y=px_y(t - 34.0),
            xanchor="center", yanchor="middle", showarrow=False,
            font=dict(size=11, family=FONT, color="black")))
        annotations.append(dict(
            text=f"(cor. = {pearson_cor[r][c]:.2f})",
            xref="paper", yref="paper", x=px_x(cx), y=px_y(t - 24.0),
            xanchor="center", yanchor="middle", showarrow=False,
            font=dict(size=11, family=FONT, color="black")))
        annotations.append(dict(
            text=meas, xref="paper", yref="paper", x=px_x(cx), y=px_y(b + 38),
            xanchor="center", yanchor="middle", showarrow=False,
            font=dict(size=11, family=FONT, color="black")))
        annotations.append(dict(
            text="FL", xref="paper", yref="paper", x=px_x(l - 38), y=px_y((t + b) / 2),
            xanchor="center", yanchor="middle", showarrow=False, textangle=-90,
            font=dict(size=11, family=FONT, color="black")))

for c in range(3):
    l, rr = col_px[c]
    annotations.append(dict(
        text=col_titles[c], xref="paper", yref="paper", x=px_x((l + rr) / 2), y=px_y(6.5),
        xanchor="center", yanchor="middle", showarrow=False,
        font=dict(size=14.5, family=FONT, color="black")))

layout["annotations"] = annotations
layout["shapes"] = shapes
fig.update_layout(**layout)
fig.write_html("out.html", config={"displayModeBar": False},
               post_script="document.body.style.margin='0';document.body.style.padding='0';")
